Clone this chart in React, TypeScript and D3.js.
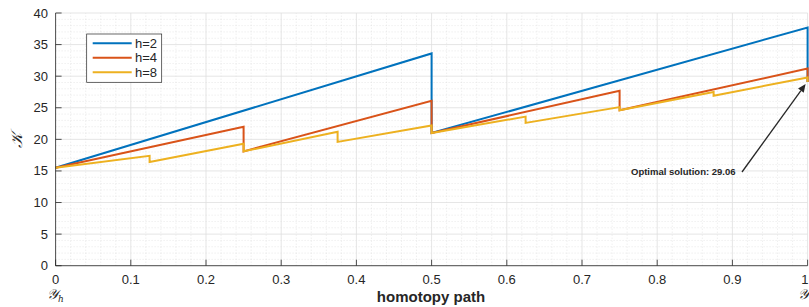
import React from "react";
import * as d3 from "d3";

const xH2 = [0, 0.5, 0.5, 1, 1];
const yH2 = [15.5, 33.6, 21.0, 37.7, 29.06];
const xH4 = [0, 0.25, 0.25, 0.5, 0.5, 0.75, 0.75, 1, 1];
const yH4 = [15.5, 22.0, 18.1, 26.1, 21.0, 27.7, 24.6, 31.2, 29.06];
const xH8 = [0, 0.125, 0.125, 0.25, 0.25, 0.375, 0.375, 0.5, 0.5, 0.625, 0.625, 0.75, 0.75, 0.875, 0.875, 1, 1];
const yH8 = [15.5, 17.4, 16.4, 19.3, 18.1, 21.2, 19.6, 22.2, 21.0, 23.6, 22.6, 25.1, 24.6, 27.5, 26.9, 29.8, 29.06];
const seriesNames = ["h=2", "h=4", "h=8"];
const seriesColors = ["#0072BD", "#D95319", "#EDB120"];
const xTicks = [0, 0.1, 0.2, 0.3, 0.4, 0.5, 0.6, 0.7, 0.8, 0.9, 1];
const yTicks = [0, 5, 10, 15, 20, 25, 30, 35, 40];
const optimalValue = 29.06;
const annotationText = "Optimal solution: 29.06";
const xLabel = "homotopy path";

export default function App() {
  const W = 809, H = 307;
  const x = d3.scaleLinear().domain([0, 1]).range([55.6, 807.6]);
  const y = d3.scaleLinear().domain([0, 40]).range([265.7, 13]);
  const series = [
    xH2.map((v, i) => [v, yH2[i]] as [number, number]),
    xH4.map((v, i) => [v, yH4[i]] as [number, number]),
    xH8.map((v, i) => [v, yH8[i]] as [number, number]),
  ];
  const line = d3.line<[number, number]>().x(d => x(d[0])).y(d => y(d[1]));
  const minorX = d3.range(0, 1.0001, 0.02).filter(v => Math.abs(v * 10 - Math.round(v * 10)) > 1e-6);
  const minorY = d3.range(0, 40.0001, 1).filter(v => v % 5 !== 0);
  const font = "'Liberation Sans', Arial, Helvetica, sans-serif";
  const axisColor = "#262626";
  const tipX = x(1) - 2, tipY = y(optimalValue) + 2;
  const startX = 742, startY = 172;
  const ang = Math.atan2(tipY - startY, tipX - startX);
  const ah = 8, aw = 3.5;
  const bx = tipX - ah * Math.cos(ang), by = tipY - ah * Math.sin(ang);
  const arrowHead = `M${tipX},${tipY} L${bx + aw * Math.sin(ang)},${by - aw * Math.cos(ang)} L${bx - aw * Math.sin(ang)},${by + aw * Math.cos(ang)} Z`;
  return (
    <svg width={W} height={H} style={{ position: "absolute", left: 0, top: 0, display: "block", background: "#fff" }}>
      <rect x={x(0)} y={y(40)} width={x(1) - x(0)} height={y(0) - y(40)} fill="#fff" />
      {minorX.map((v, i) => (
        <line key={"mx" + i} x1={x(v)} x2={x(v)} y1={y(0)} y2={y(40)} stroke="#d8d8d8" strokeWidth={0.6} strokeDasharray="1,2" />
      ))}
      {minorY.map((v, i) => (
        <line key={"my" + i} x1={x(0)} x2={x(1)} y1={y(v)} y2={y(v)} stroke="#d8d8d8" strokeWidth={0.6} strokeDasharray="1,2" />
      ))}
      {xTicks.map((v, i) => (
        <line key={"gx" + i} x1={x(v)} x2={x(v)} y1={y(0)} y2={y(40)} stroke="#dedede" strokeWidth={0.8} />
      ))}
      {yTicks.map((v, i) => (
        <line key={"gy" + i} x1={x(0)} x2={x(1)} y1={y(v)} y2={y(v)} stroke="#dedede" strokeWidth={0.8} />
      ))}
      {series.map((s, i) => (
        <path key={"s" + i} d={line(s) || ""} fill="none" stroke={seriesColors[i]} strokeWidth={2} strokeLinejoin="miter" />
      ))}
      <line x1={x(0)} x2={x(0)} y1={y(0)} y2={y(40)} stroke={axisColor} strokeWidth={0.8} />
      <line x1={x(0)} x2={x(1)} y1={y(0)} y2={y(0)} stroke={axisColor} strokeWidth={0.8} />
      {xTicks.map((v, i) => (
        <g key={"xt" + i}>
          <line x1={x(v)} x2={x(v)} y1={y(0)} y2={y(0) - 6} stroke={axisColor} strokeWidth={0.8} />
          <text x={v === 1 ? 808.5 : x(v)} y={284} textAnchor={v === 1 ? "end" : "middle"} fontFamily={font} fontSize={13} fill={axisColor}>{String(v)}</text>
        </g>
      ))}
      {yTicks.map((v, i) => (
        <g key={"yt" + i}>
          <line x1={x(0)} x2={x(0) + 6} y1={y(v)} y2={y(v)} stroke={axisColor} strokeWidth={0.8} />
          <text x={48} y={y(v) + 4.5} textAnchor="end" fontFamily={font} fontSize={13} fill={axisColor}>{String(v)}</text>
        </g>
      ))}
      <text x={431} y={302} textAnchor="middle" fontFamily={font} fontSize={15} fontWeight="bold" fill={axisColor}>{xLabel}</text>
      <text transform="translate(22,140) rotate(-90)" textAnchor="middle" fontFamily="'DejaVu Serif', serif" fontStyle="italic" fontSize={16} fill={axisColor}>𝒦</text>
      <text x={47} y={299} fontFamily="'DejaVu Serif', serif" fontStyle="italic" fontSize={14} fill={axisColor}>𝒴<tspan fontSize={9} dy={3}>h</tspan></text>
      <text x={808.5} y={299} textAnchor="end" fontFamily="'DejaVu Serif', serif" fontStyle="italic" fontSize={14} fill={axisColor}>𝒴</text>
      <g>
        <rect x={86.7} y={34} width={75} height={48.3} fill="#fff" stroke="#262626" strokeWidth={0.7} />
        {seriesNames.map((n, i) => (
          <g key={"lg" + i}>
            <line x1={92.7} x2={131.7} y1={43.3 + i * 14.5} y2={43.3 + i * 14.5} stroke={seriesColors[i]} strokeWidth={2} />
            <text x={135} y={43.3 + i * 14.5 + 4.5} fontFamily={font} fontSize={13} fill={axisColor}>{n}</text>
          </g>
        ))}
      </g>
      <line x1={startX} y1={startY} x2={bx} y2={by} stroke="#262626" strokeWidth={1.3} />
      <path d={arrowHead} fill="#262626" />
      <text x={631} y={175} fontFamily={font} fontSize={9.5} fontWeight="bold" fill="#262626">{annotationText}</text>
    </svg>
  );
}
